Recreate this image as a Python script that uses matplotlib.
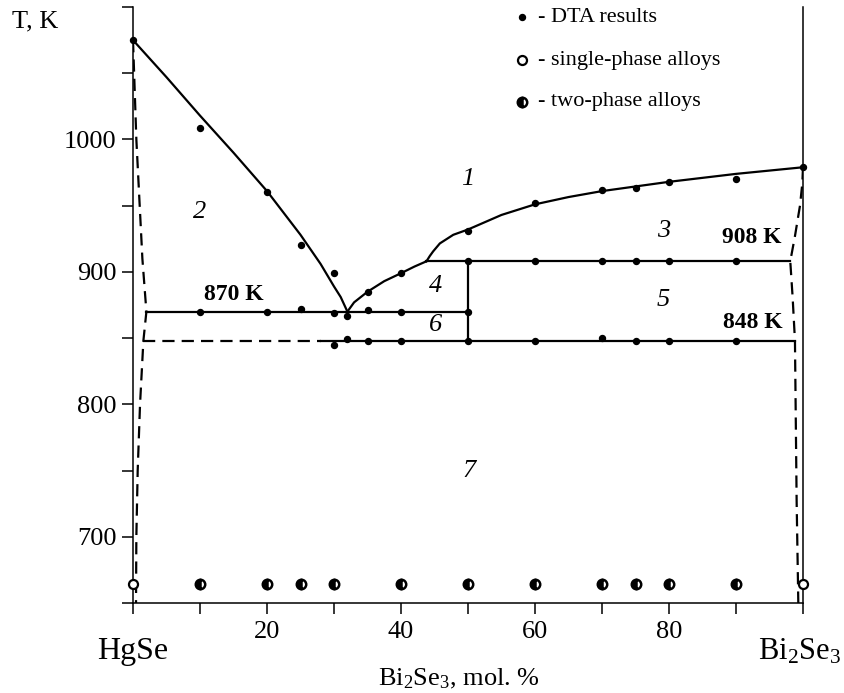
import matplotlib
matplotlib.use("Agg")
import matplotlib.pyplot as plt
import numpy as np

plt.rcParams["font.family"] = ["Liberation Serif", "DejaVu Serif"]
plt.rcParams["mathtext.fontset"] = "custom"
plt.rcParams["mathtext.rm"] = "Liberation Serif"
plt.rcParams["mathtext.it"] = "Liberation Serif:italic"
plt.rcParams["mathtext.bf"] = "Liberation Serif:bold"

# ---- DTA thermal effects (composition, mol.% Bi2Se3 ; temperature, K) ----
dta_x = [0, 10, 20, 25, 30, 35, 40, 50, 60, 70, 75, 80, 90, 100,
         10, 20, 25, 30, 32, 35, 40, 50,
         50, 60, 70, 75, 80, 90,
         30, 32, 35, 40, 50, 60, 70, 75, 80, 90]
dta_T = [1075, 1009, 960, 920, 899, 885, 899, 931, 952, 962, 963, 968, 970, 979,
         870, 870, 872, 869, 867, 871, 870, 870,
         908, 908, 908, 908, 908, 908,
         845, 849, 848, 848, 848, 848, 850, 848, 848, 848]

# ---- annealed alloys (microstructure) ----
single_x = [0, 100]
two_x = [10, 20, 25, 30, 40, 50, 60, 70, 75, 80, 90]
alloy_T = 664

# ---- phase boundaries ----
liq_left_x = [0, 5, 10, 15, 20, 25, 28, 30, 31, 32]
liq_left_T = [1075, 1047, 1018, 990, 961, 928, 906, 889, 881, 870]

liq_mid_x = [32, 33, 35, 37.5, 40, 42, 43.8]
liq_mid_T = [870, 877, 885, 893, 899, 904, 908]

liq_right_x = [43.8, 44.3, 44.8, 45.8, 47.8, 50, 55, 60, 65, 70, 75, 80, 90, 100]
liq_right_T = [908, 912, 915.5, 921.5, 928, 932, 943, 951, 956.5, 961, 964.5, 968, 974, 979]

solv_left_x = [0, 0.5, 1.4, 2.0, 1.55, 1.05, 0.7, 0.5, 0.45]
solv_left_T = [1075, 1000, 910, 870, 848, 800, 750, 700, 650]

solv_right_x = [100, 99.9, 99.55, 98.8, 98.1, 98.45, 98.8, 99.05, 99.3]
solv_right_T = [979, 967, 950, 927, 908, 881, 848, 727, 650]

peritectic_T = 908
eutectic_T = 870
eutectoid_T = 848

# horizontal invariant lines: (x_start, x_end, T)
h_solid = [(43.8, 98.1, peritectic_T), (2.0, 50, eutectic_T), (28, 98.8, eutectoid_T)]
h_dashed = [(1.55, 28, eutectoid_T)]
compound_x = 50

# phase-field numbers
field_labels = ["1", "2", "3", "4", "5", "6", "7"]
field_x = [50, 10, 79.2, 45.1, 79.1, 45.1, 50.2]
field_T = [970, 945, 931, 889, 879, 860, 750]

temp_labels = ["870 K", "908 K", "848 K"]
temp_x = [15.1, 92.4, 92.5]
temp_T = [882.6, 925.8, 862.0]

x_ticks = np.arange(0, 101, 10)
x_ticklabels = ["", "", "20", "", "40", "", "60", "", "80", "", ""]
y_ticks = np.arange(650, 1101, 50)
y_ticklabels = ["", "700", "", "800", "", "900", "", "1000", "", ""]

W, H = 844, 693
fig = plt.figure(figsize=(W / 100, H / 100), dpi=100)
ax = fig.add_axes([133 / W, 1 - 603 / H, 670 / W, 596 / H])
ax.set_xlim(0, 100)
ax.set_ylim(650, 1100)

lw = 1.6
dash = (5.5, 3.2)

ax.plot(liq_left_x, liq_left_T, color="black", lw=lw)
ax.plot(liq_mid_x, liq_mid_T, color="black", lw=lw)
ax.plot(liq_right_x, liq_right_T, color="black", lw=lw)
ax.plot(solv_left_x, solv_left_T, color="black", lw=lw, linestyle=(0, dash))
ax.plot(solv_right_x, solv_right_T, color="black", lw=lw, linestyle=(0, dash))
for x0, x1, t in h_solid:
    ax.plot([x0, x1], [t, t], color="black", lw=lw)
for x0, x1, t in h_dashed:
    ax.plot([x0, x1], [t, t], color="black", lw=lw, linestyle=(0, dash))
ax.plot([compound_x, compound_x], [eutectoid_T, peritectic_T], color="black", lw=lw)

ax.plot(dta_x, dta_T, "o", color="black", ms=4.3, clip_on=False, zorder=5)
ax.plot(single_x, [alloy_T] * len(single_x), "o", mfc="white", mec="black",
        mew=1.6, ms=6.5, clip_on=False, zorder=5)
ax.plot(two_x, [alloy_T] * len(two_x), "o", fillstyle="left", mfc="black",
        mfcalt="white", mec="black", mew=1.8, ms=6.8, clip_on=False, zorder=5)

for s, x, t in zip(field_labels, field_x, field_T):
    ax.text(x, t, s, fontsize=19, style="italic", ha="center", va="center")
for s, x, t in zip(temp_labels, temp_x, temp_T):
    ax.text(x, t, s, fontsize=17, weight="bold", ha="center", va="center")

# key
key_x, key_tx = 58.1, 60.4
key_T = [1092.4, 1059.8, 1028.5]
ax.plot([key_x], [key_T[0]], "o", color="black", ms=4.3, clip_on=False)
ax.plot([key_x], [key_T[1]], "o", mfc="white", mec="black", mew=1.6, ms=6.5, clip_on=False)
ax.plot([key_x], [key_T[2]], "o", fillstyle="left", mfc="black", mfcalt="white",
        mec="black", mew=1.8, ms=6.8, clip_on=False)
for s, t in zip(["- DTA results", "- single-phase alloys", "- two-phase alloys"], key_T):
    ax.text(key_tx, t, s, fontsize=16, ha="left", va="center")

# axes
ax.spines["top"].set_visible(False)
for side in ("left", "right", "bottom"):
    ax.spines[side].set_linewidth(1.1)
ax.set_xticks(x_ticks)
ax.set_xticklabels(x_ticklabels)
ax.set_yticks(y_ticks)
ax.set_yticklabels(y_ticklabels)
ax.tick_params(axis="both", direction="out", length=8, width=1.1, labelsize=19)
ax.tick_params(axis="x", pad=5)
ax.tick_params(axis="y", pad=4)

fig.text(133 / W, 1 - 652 / H, "HgSe", fontsize=23, ha="center", va="center")
fig.text(841 / W, 1 - 652 / H, r"Bi$_{\rm 2}$Se$_{\rm 3}$", fontsize=22, ha="right", va="center")
fig.text(459 / W, 1 - 679 / H, r"Bi$_{\rm 2}$Se$_{\rm 3}$, mol. %", fontsize=19, ha="center", va="center")
fig.text(12 / W, 1 - 21 / H, "T, K", fontsize=19, ha="left", va="center")

fig.savefig("out.png", dpi=100)
